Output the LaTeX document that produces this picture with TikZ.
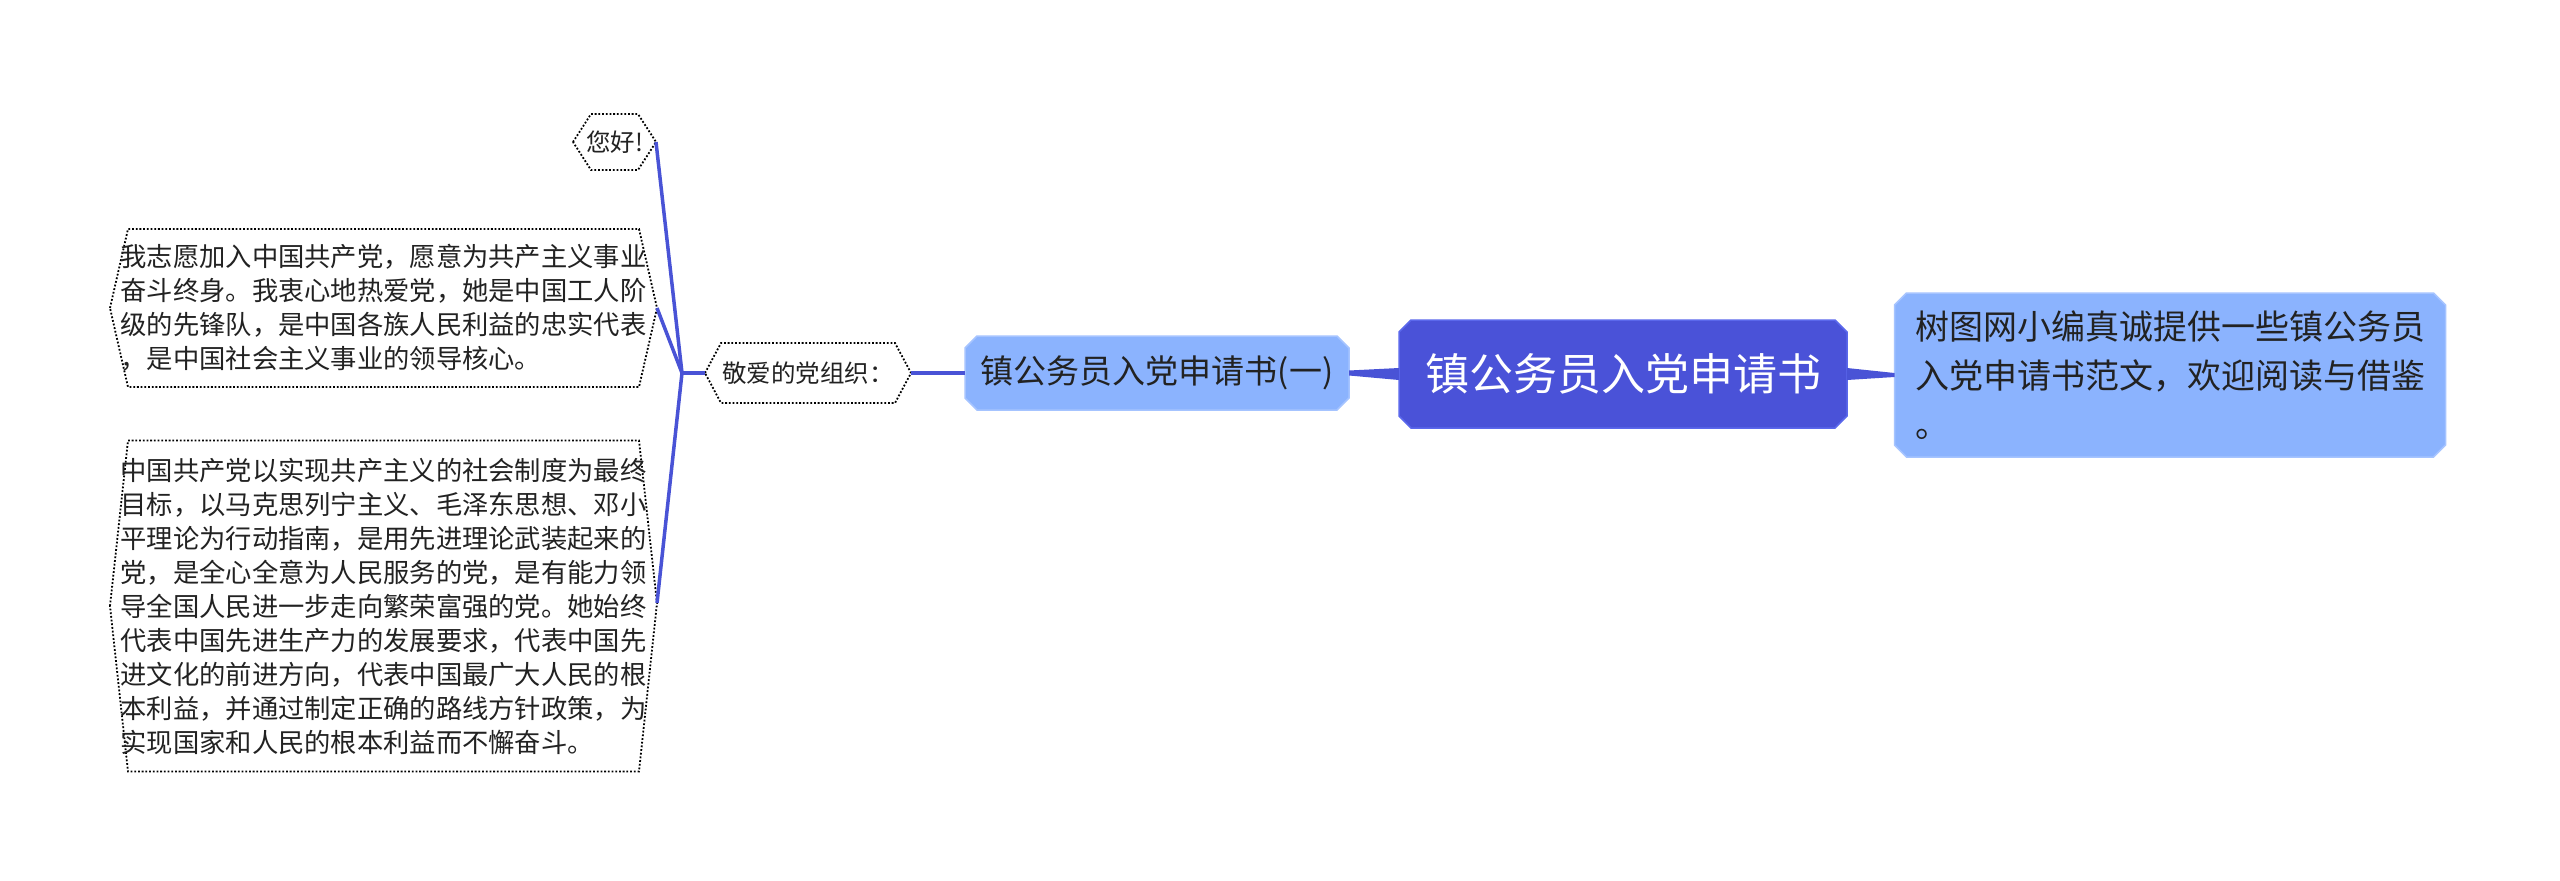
\documentclass[tikz,border=0pt]{standalone}
\usepackage{fontspec}
\newfontfamily\cjk{Noto Sans CJK SC}
\usetikzlibrary{calc,backgrounds}
\definecolor{rootfill}{HTML}{4A52D8}
\definecolor{rootline}{HTML}{5B68EC}
\definecolor{lightfill}{HTML}{8BB3FE}
\definecolor{lightline}{HTML}{A6C4FF}
\definecolor{linkc}{HTML}{4953D6}
\definecolor{textc}{HTML}{222222}
\newcommand\chamfshape[3]{%
  \path[#1] ([xshift=#3]#2.north west) -- ([xshift=-#3]#2.north east) -- ([yshift=-#3]#2.north east) -- ([yshift=#3]#2.south east) -- ([xshift=-#3]#2.south east) -- ([xshift=#3]#2.south west) -- ([yshift=#3]#2.south west) -- ([yshift=-#3]#2.north west) -- cycle;}
\newcommand\hexshape[3]{%
  \path[#1] (#2.west) -- ([xshift=#3]#2.north west) -- ([xshift=-#3]#2.north east) -- (#2.east) -- ([xshift=-#3]#2.south east) -- ([xshift=#3]#2.south west) -- cycle;}
\begin{document}
\begin{tikzpicture}[x=1pt,y=-1pt,
  every node/.style={inner sep=0pt, outer sep=0pt},
  txt/.style={align=left, text=textc},
  dotb/.style={draw=black, line width=1.8pt, dash pattern=on 1.8pt off 1.9pt, fill=white},
  rootb/.style={fill=rootfill, draw=rootline, line width=1.5pt},
  lightb/.style={fill=lightfill, draw=lightline, line width=1.5pt},
  link/.style={draw=linkc, line width=3.5pt},
  taper/.style={fill=linkc}]
\useasboundingbox (0,0) rectangle (2560,881);

\node[txt, font={\cjk\fontsize{44}{52}\selectfont}, text=white, minimum width=448pt, minimum height=108pt] (root) at (1623,374) {镇公务员入党申请书};

\node[txt, font={\cjk\fontsize{34}{49}\selectfont}, minimum width=551pt, minimum height=164pt] (right) at (2170,375) {树图网小编真诚提供一些镇公务员\\入党申请书范文，欢迎阅读与借鉴\\。};

\node[txt, font={\cjk\fontsize{33}{40}\selectfont}, minimum width=384pt, minimum height=74pt] (lone) at (1157,373) {镇公务员入党申请书(一)};

\node[txt, font={\cjk\fontsize{24.5}{30}\selectfont}, minimum width=206pt, minimum height=60pt] (jing) at (808,373) {敬爱的党组织：};

\node[txt, font={\cjk\fontsize{24.5}{30}\selectfont}, minimum width=83pt, minimum height=56pt] (hello) at (614.5,142) {您好!};

\node[txt, font={\cjk\fontsize{26.3}{34}\selectfont}, minimum width=547pt, minimum height=158pt] (bone) at (383.5,308) {我志愿加入中国共产党，愿意为共产主义事业\\奋斗终身。我衷心地热爱党，她是中国工人阶\\级的先锋队，是中国各族人民利益的忠实代表\\，是中国社会主义事业的领导核心。};

\node[txt, font={\cjk\fontsize{26.3}{34}\selectfont}, minimum width=547pt, minimum height=331pt] (btwo) at (383.5,606) {中国共产党以实现共产主义的社会制度为最终\\目标，以马克思列宁主义、毛泽东思想、邓小\\平理论为行动指南，是用先进理论武装起来的\\党，是全心全意为人民服务的党，是有能力领\\导全国人民进一步走向繁荣富强的党。她始终\\代表中国先进生产力的发展要求，代表中国先\\进文化的前进方向，代表中国最广大人民的根\\本利益，并通过制定正确的路线方针政策，为\\实现国家和人民的根本利益而不懈奋斗。};

\coordinate (br) at (682,373);

\begin{scope}[on background layer]
  \fill[white] (0,0) rectangle (2560,881);
  \chamfshape{rootb}{root}{12}
  \chamfshape{lightb}{right}{12}
  \chamfshape{lightb}{lone}{12}
  \hexshape{dotb}{jing}{16}
  \hexshape{dotb}{hello}{18}
  \hexshape{dotb}{bone}{18}
  \path[dotb] (btwo.west) -- ([xshift=18]btwo.north west) -- ([xshift=-18]btwo.north east) -- ([yshift=3]btwo.east) -- ([xshift=-18]btwo.south east) -- ([xshift=18]btwo.south west) -- cycle;
\end{scope}

\fill[taper] ($(root.east)+(0,-6)$) -- ($(right.west)+(0,-2)$) -- ($(right.west)+(0,2)$) -- ($(root.east)+(0,6)$) -- cycle;
\fill[taper] ($(root.west)+(0,-6)$) -- ($(lone.east)+(0,-2.5)$) -- ($(lone.east)+(0,2.5)$) -- ($(root.west)+(0,6)$) -- cycle;
\draw[link, line width=4pt] (lone.west) -- (jing.east);
\draw[link] (jing.west) -- (br);
\draw[link] (br) -- (hello.east);
\draw[link] (br) -- (bone.east);
\draw[link] (br) -- ([yshift=3]btwo.east);
\end{tikzpicture}
\end{document}
